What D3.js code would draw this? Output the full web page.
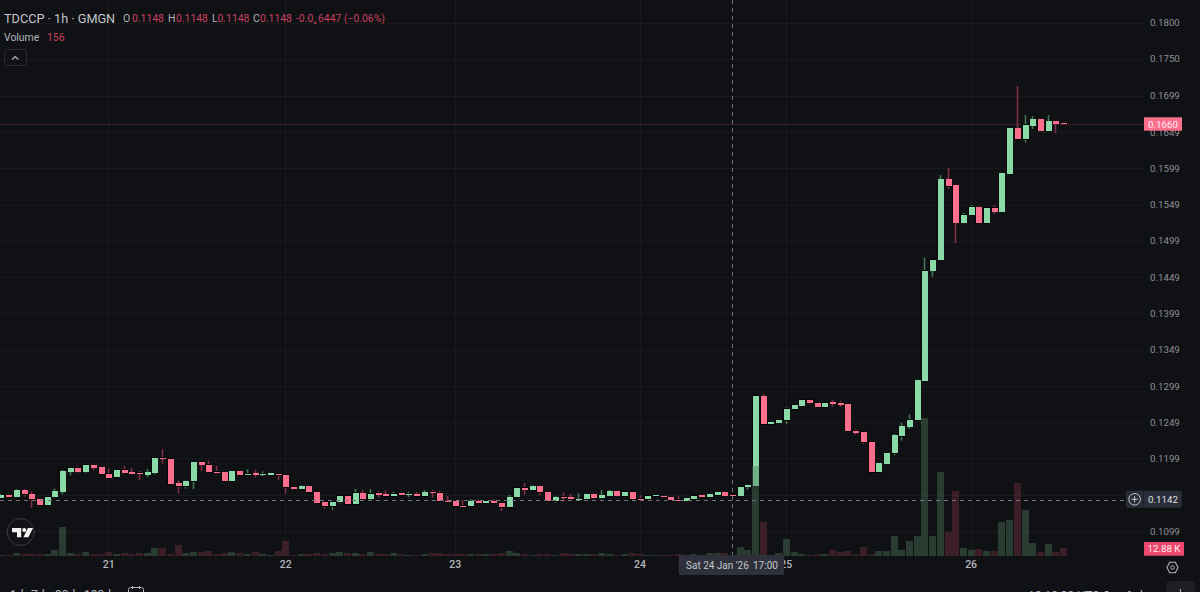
<!DOCTYPE html>
<html><head><meta charset="utf-8">
<script src="https://cdn.jsdelivr.net/npm/d3@7/dist/d3.min.js"></script>
<style>
html,body{margin:0;padding:0;background:#101114;overflow:hidden}
svg{display:block;font-family:Roboto,"Noto Sans",sans-serif}
</style></head><body><svg id="c" width="1200" height="592"></svg>
<script>
// Prices are in units of 0.00001: [open, high, low, close]
const candleRows = [
[11440,11500,11431,11486],[11486,11493,11451,11458],[11463,11569,11463,11555],[11555,11569,11463,11496],
[11500,11532,11311,11427],[11427,11427,11340,11344],[11344,11475,11340,11463],[11463,11573,11463,11537],
[11532,11830,11496,11817],[11808,11870,11758,11863],[11863,11886,11794,11808],[11808,11914,11794,11900],
[11896,11900,11831,11863],[11868,11868,11772,11772],[11780,11854,11725,11725],[11730,11841,11725,11831],
[11835,11882,11790,11794],[11799,11863,11776,11776],[11790,11817,11693,11776],[11766,11845,11730,11799],
[11790,12006,11772,11997],[12001,12121,11918,11987],[11987,11987,11642,11642],[11647,11689,11504,11606],
[11606,11685,11573,11679],[11675,11941,11569,11941],[11941,11941,11817,11900],[11904,11959,11799,11799],
[11808,11886,11780,11794],[11799,11799,11675,11675],[11675,11817,11670,11817],[11817,11817,11748,11758],
[11758,11841,11758,11780],[11785,11835,11725,11762],[11772,11813,11748,11780],[11766,11785,11766,11785],
[11780,11780,11693,11758],[11762,11762,11504,11592],[11601,11601,11569,11569],[11565,11620,11565,11610],
[11610,11610,11523,11523],[11527,11527,11380,11380],[11385,11385,11297,11334],[11334,11394,11279,11394],
[11389,11476,11371,11476],[11476,11476,11362,11362],[11362,11569,11362,11514],[11509,11555,11435,11435],
[11435,11569,11427,11504],[11514,11541,11449,11490],[11496,11551,11463,11472],[11472,11532,11463,11504],
[11509,11509,11480,11486],[11490,11532,11454,11504],[11496,11527,11458,11472],[11468,11555,11468,11523],
[11532,11555,11445,11518],[11518,11545,11394,11399],[11403,11472,11394,11394],[11403,11403,11334,11334],
[11338,11417,11330,11330],[11334,11427,11334,11403],[11403,11427,11371,11371],[11371,11403,11358,11403],
[11403,11427,11358,11371],[11376,11376,11265,11316],[11320,11486,11320,11458],[11454,11583,11454,11583],
[11583,11652,11486,11559],[11555,11620,11555,11610],[11610,11610,11482,11523],[11527,11527,11380,11399],
[11399,11472,11380,11458],[11463,11523,11394,11454],[11454,11500,11427,11427],[11427,11509,11427,11431],
[11427,11496,11427,11496],[11496,11505,11440,11449],[11449,11555,11438,11486],[11476,11555,11476,11541],
[11541,11541,11476,11476],[11472,11532,11472,11532],[11532,11532,11431,11431],[11435,11486,11417,11431],
[11431,11476,11431,11476],[11468,11482,11468,11482],[11472,11472,11454,11454],[11458,11458,11417,11417],
[11421,11468,11407,11407],[11407,11445,11407,11440],[11431,11476,11431,11476],[11482,11482,11463,11463],
[11458,11500,11458,11500],[11486,11523,11486,11523],[11523,11523,11476,11476],[11486,11486,11476,11476],
[11476,11601,11476,11601],[11601,11624,11559,11624],[11610,12866,11610,12852],[12851,12879,12465,12465],
[12465,12492,12465,12492],[12479,12524,12479,12524],[12520,12695,12465,12676],[12671,12723,12671,12723],
[12717,12796,12717,12796],[12796,12796,12750,12750],[12759,12759,12699,12699],[12699,12759,12699,12759],
[12764,12796,12703,12745],[12759,12786,12699,12731],[12741,12741,12364,12364],[12373,12396,12317,12341],
[12355,12355,12189,12213],[12221,12221,11803,11803],[11803,11923,11803,11923],[11918,12065,11918,12065],
[12061,12327,12033,12313],[12299,12483,12235,12437],[12427,12599,12400,12524],[12520,13065,12520,13065],
[13058,14758,13058,14581],[14578,14735,14496,14730],[14726,15898,14726,15842],[15842,15998,15705,15746],
[15756,15756,14956,15240],[15240,15378,15240,15350],[15342,15480,15342,15461],[15456,15465,15236,15236],
[15232,15447,15232,15447],[15447,15480,15360,15392],[15392,15925,15392,15925],[15911,16541,15911,16541],
[16541,17125,16390,16390],[16390,16725,16343,16587],[16577,16711,16532,16666],[16666,16666,16508,16508],
[16508,16725,16508,16638],[16638,16638,16473,16601],[16615,16633,16597,16601]
];
// Volume per bar, in thousands
const volumes = [
0.6,1.2,4.7,2.3,2.9,2.9,3.5,9.4,49.9,4.7,2.9,7.0,2.9,2.9,6.5,3.5,4.1,2.9,4.1,4.7,13.5,13.5,2.9,19.4,4.1,7.0,
6.5,8.8,2.9,4.1,5.9,4.1,2.9,6.5,2.9,1.2,8.8,25.2,1.2,2.3,2.3,5.3,2.3,4.1,7.0,5.3,4.1,2.3,6.5,2.9,2.9,5.3,2.3,
1.8,1.8,2.9,5.3,4.7,2.3,2.9,3.5,2.9,3.5,2.3,3.5,4.7,7.6,4.1,2.9,1.8,2.9,2.9,1.8,4.1,3.5,2.9,2.9,2.9,4.1,3.5,
1.8,2.9,4.1,3.5,1.2,1.2,1.2,0.6,2.9,0.6,2.3,1.2,4.1,4.7,4.1,0.156,15.8,9.4,
158.4,59.8,0.6,4.7,29.3,5.9,2.9,1.8,2.9,2.9,10,7,8.8,2.9,14.7,3.5,7.6,7.6,34,10,25.2,35.2,243,34,146.8,41.7,115,
12.9,10,11.7,8.2,8.2,58.7,62.2,127.4,80.4,21.7,7,20.5,5.9,12.88
];
const priceTicks = [0.18,0.175,0.1699,0.1649,0.1599,0.1549,0.1499,0.1449,0.1399,0.1349,0.1299,0.1249,0.1199,0.1099];
const hiddenGridPrices = [0.1149];
const dayLabels = ["21","22","23","24","25","26"];
const dayIndexes = [14,37,59,83,102,126];
const lastPrice = 0.1660, crossPrice = 0.1142, crossIndex = 95, lastVolume = 12.88;
const headerValues = [["O","0.1148",123,132],["H","0.1148",168,176],["L","0.1148",212,217.5],["C","0.1148",253,260]];

const svg = d3.select("#c");
const PLOT_R = 1143, PLOT_B = 555.7;
const x = d3.scaleLinear().domain([0,138]).range([0.4,1063]);
const y = d3.scaleLinear().domain([0.1099,0.18]).range([531,22.5]);
const yv = d3.scaleLinear().domain([0,lastVolume]).range([PLOT_B,548.4]);
const candles = candleRows.map((r,i)=>({i,o:r[0]/1e5,h:r[1]/1e5,l:r[2]/1e5,c:r[3]/1e5,v:volumes[i],up:r[3]>=r[0]}));

// grid
const grid = svg.append("g").attr("shape-rendering","crispEdges").attr("stroke","#181a1e").attr("stroke-width",1);
grid.selectAll(".h").data(priceTicks.concat(hiddenGridPrices)).join("line").attr("x1",0).attr("x2",PLOT_R)
  .attr("y1",d=>Math.round(y(d))+.5).attr("y2",d=>Math.round(y(d))+.5);
grid.selectAll(".v").data(dayIndexes).join("line").attr("y1",0).attr("y2",PLOT_B)
  .attr("x1",d=>Math.round(x(d))+.5).attr("x2",d=>Math.round(x(d))+.5);

// last price dotted line
svg.append("line").attr("x1",0).attr("x2",PLOT_R).attr("y1",Math.round(y(lastPrice))+.5).attr("y2",Math.round(y(lastPrice))+.5)
  .attr("stroke","#5f2c3c").attr("stroke-dasharray","1 1").attr("shape-rendering","crispEdges");

// candles
const GREEN="#89daa6", RED="#fb6e8c", GW="#437454", RW="#7d3046";
const wg = svg.append("g");
wg.selectAll("line").data(candles).join("line")
  .attr("x1",d=>Math.round(x(d.i))+.5).attr("x2",d=>Math.round(x(d.i))+.5)
  .attr("y1",d=>y(d.h)).attr("y2",d=>y(d.l)).attr("stroke",d=>d.up?GW:RW).attr("stroke-width",1.6);
const cg = svg.append("g").attr("shape-rendering","crispEdges");
cg.selectAll("rect").data(candles).join("rect")
  .attr("x",d=>Math.round(x(d.i))-2.5).attr("width",6)
  .attr("y",d=>y(Math.max(d.o,d.c)))
  .attr("height",d=>Math.max(1,Math.abs(y(d.o)-y(d.c))))
  .attr("fill",d=>d.up?GREEN:RED).attr("stroke","#050506").attr("stroke-width",1).attr("paint-order","stroke");

// volume bars
svg.append("g").attr("shape-rendering","crispEdges").selectAll("rect").data(candles).join("rect")
  .attr("x",d=>Math.round(x(d.i))-3).attr("width",7)
  .attr("y",d=>yv(d.v)).attr("height",d=>PLOT_B-yv(d.v))
  .attr("fill",d=>d.up?"rgba(78,122,92,0.42)":"rgba(120,50,64,0.42)");

// crosshair
const dashColor="#70737a", dashPattern="4 4";
svg.append("line").attr("x1",0).attr("x2",1126).attr("y1",Math.round(y(crossPrice))+.5).attr("y2",Math.round(y(crossPrice))+.5)
  .attr("stroke",dashColor).attr("stroke-dasharray",dashPattern).attr("shape-rendering","crispEdges");
svg.append("line").attr("y1",0).attr("y2",PLOT_B).attr("x1",Math.round(x(crossIndex))+.5).attr("x2",Math.round(x(crossIndex))+.5)
  .attr("stroke",dashColor).attr("stroke-dasharray",dashPattern).attr("shape-rendering","crispEdges");

// price axis
const axisY = d3.axisRight(y).tickValues(priceTicks).tickFormat(d3.format(".4f")).tickSize(0).tickPadding(0);
const ay = svg.append("g").attr("transform","translate(1150,0)").call(axisY);
ay.select(".domain").remove();
ay.selectAll("text").attr("fill","#8e9096").attr("font-size",9.7).attr("font-family","Roboto");

// time axis
const axisX = d3.axisBottom(x).tickValues(dayIndexes).tickFormat((d,i)=>dayLabels[i]).tickSize(0).tickPadding(0);
const ax = svg.append("g").attr("transform","translate(0,561)").call(axisX);
ax.select(".domain").remove();
ax.selectAll("text").attr("fill","#b4b6bc").attr("font-size",10.5).attr("font-weight",500).attr("font-family","Roboto");

function T(s,xp,yp,fill,size,opt={}){
  return svg.append("text").attr("x",xp).attr("y",yp).attr("fill",fill).attr("font-size",size)
    .attr("font-weight",opt.w||400).attr("text-anchor",opt.a||"start").text(s);
}

// header
const HR="#c8425f", HG="#b2b5bb";
T("TDCCP · 1h · GMGN",4,23,"#c3c5ca",12.7);
headerValues.forEach(h=>{T(h[0],h[2],21.5,HG,10.4);T(h[1],h[3],21.5,HR,10.4);});
T("-0.0",296,21.5,HR,10.4);
T("₄",313.5,22.5,HR,8);
T("6447 (−0.06%)",318,21.5,HR,10.4);
T("Volume",4,41,HG,10.4);
T("156",47,41,HR,10.4);
svg.append("rect").attr("x",4.5).attr("y",49.5).attr("width",22).attr("height",16).attr("rx",3).attr("fill","none").attr("stroke","#2a2c31");
svg.append("path").attr("d","M12 59.5l3.2-3 3.2 3").attr("fill","none").attr("stroke",HG).attr("stroke-width",1.2);

// logo
svg.append("circle").attr("cx",20.7).attr("cy",532).attr("r",13.5).attr("fill","#121316").attr("stroke","#3b3d43").attr("stroke-width",1);
svg.append("path").attr("d","M12 528h9.2v9.2h-4.2v-5H12z M24.2 528a2 2 0 1 0 0.01 0z M33 528l-4.6 9.2h-5l4.5-9.2z").attr("fill","#f2f2f3");

// price tags
svg.append("rect").attr("x",1144).attr("y",117.3).attr("width",38).attr("height",13.4).attr("fill","#fb6f8c");
T(lastPrice.toFixed(4),1163,128,"#fdeef1",9.7,{a:"middle"});
svg.append("rect").attr("x",1126).attr("y",490.7).attr("width",56).attr("height",17).attr("rx",2).attr("fill","#2a2d37");
svg.append("line").attr("x1",1143.5).attr("x2",1143.5).attr("y1",490.7).attr("y2",507.7).attr("stroke","#1d1f26");
svg.append("circle").attr("cx",1134.6).attr("cy",499.3).attr("r",5.8).attr("fill","none").attr("stroke","#c8cad0");
svg.append("path").attr("d","M1134.6 496.3v6M1131.6 499.3h6").attr("stroke","#c8cad0");
T(crossPrice.toFixed(4),1163,502.7,"#dfe0e4",9.7,{a:"middle"});
svg.append("rect").attr("x",1144).attr("y",542).attr("width",40).attr("height",13.7).attr("fill","#ef486e");
T("12.88 K",1164,552.4,"#fdeef1",9.7,{a:"middle"});

// crosshair time tag
svg.append("rect").attr("x",678.7).attr("y",555).attr("width",105.3).attr("height",20).attr("rx",1).attr("fill","#2e313b");
T("Sat 24 Jan '26",686,569,"#c4c6cc",10);
T("17:00",753,569,"#c4c6cc",10);

// settings icon
svg.append("path").attr("d","M1167 567.5l2.7-5.2h5.6l2.7 5.2l-2.7 5.2h-5.6z").attr("fill","none").attr("stroke",HG).attr("stroke-width",1.1);
svg.append("circle").attr("cx",1172.5).attr("cy",567.5).attr("r",1.8).attr("fill","none").attr("stroke",HG);

// bottom toolbar (clipped by the window)
[["1d",10],["7d",31],["30d",55],["180d",84]].forEach(d=>T(d[0],d[1],599,HG,12));
svg.append("rect").attr("x",128.5).attr("y",587.5).attr("width",15).attr("height",12).attr("rx",2).attr("fill","none").attr("stroke",HG);
svg.append("path").attr("d","M132.5 586v3M139.5 586v3").attr("stroke",HG);
T("12:10:30 UTC-8",1028,600,HG,12);
T("%",1127,600,HG,12);
T("log",1140,600,HG,12);
svg.append("rect").attr("x",1166).attr("y",581).attr("width",29).attr("height",20).attr("rx",4).attr("fill","#1c1e22");
svg.append("path").attr("d","M1180.5 589v3").attr("stroke",HG);
</script></body></html>
